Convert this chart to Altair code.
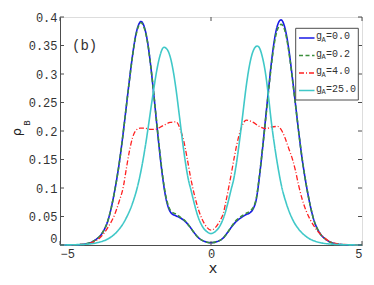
import altair as alt
import pandas as pd

# ---------------- data ----------------
x_a = [-5, -4.5, -4.2, -4.0, -3.8, -3.6, -3.4, -3.2, -3.0, -2.9, -2.8, -2.7, -2.6, -2.5,
       -2.4, -2.32, -2.2, -2.1, -2.0, -1.9, -1.8, -1.7, -1.6, -1.5, -1.4, -1.3, -1.15,
       -1.0, -0.85, -0.7, -0.55, -0.4, -0.2, 0, 0.2, 0.4, 0.55, 0.7, 0.85, 1.0, 1.15,
       1.3, 1.4, 1.5, 1.6, 1.7, 1.8, 1.9, 2.0, 2.1, 2.2, 2.32, 2.4, 2.5, 2.6, 2.7, 2.8,
       2.9, 3.0, 3.2, 3.4, 3.6, 3.8, 4.0, 4.2, 4.5, 5]
rho_g00 = [0, 0.0003, 0.0015, 0.004, 0.010, 0.021, 0.045, 0.092, 0.158, 0.200, 0.245,
           0.290, 0.332, 0.366, 0.386, 0.392, 0.381, 0.356, 0.316, 0.267, 0.214, 0.163,
           0.118, 0.084, 0.064, 0.055, 0.051, 0.047, 0.041, 0.032, 0.021, 0.012, 0.006,
           0.004, 0.006, 0.012, 0.022, 0.033, 0.042, 0.048, 0.053, 0.057, 0.064, 0.080,
           0.118, 0.166, 0.218, 0.270, 0.320, 0.360, 0.385, 0.395, 0.389, 0.368, 0.334,
           0.291, 0.246, 0.200, 0.158, 0.092, 0.045, 0.021, 0.010, 0.004, 0.0015, 0.0003, 0]
rho_g02 = [0, 0.0003, 0.0015, 0.004, 0.010, 0.021, 0.045, 0.092, 0.158, 0.200, 0.245,
           0.289, 0.331, 0.364, 0.384, 0.390, 0.379, 0.355, 0.316, 0.268, 0.216, 0.166,
           0.121, 0.087, 0.067, 0.058, 0.054, 0.048, 0.042, 0.032, 0.021, 0.012, 0.006,
           0.004, 0.006, 0.012, 0.022, 0.034, 0.044, 0.050, 0.055, 0.060, 0.066, 0.082,
           0.120, 0.166, 0.216, 0.267, 0.316, 0.355, 0.378, 0.387, 0.383, 0.364, 0.331,
           0.289, 0.245, 0.200, 0.158, 0.092, 0.045, 0.021, 0.010, 0.004, 0.0015, 0.0003, 0]

x_c = [-5, -4.3, -3.95, -3.6, -3.4, -3.2, -3.05, -2.9, -2.8, -2.7, -2.6, -2.5, -2.35,
       -2.2, -2.0, -1.85, -1.6, -1.35, -1.15, -1.0, -0.9, -0.8, -0.67, -0.55, -0.45,
       -0.3, -0.15, 0, 0.15, 0.3, 0.41, 0.5, 0.63, 0.75, 0.85, 1.0, 1.17, 1.4, 1.6,
       1.82, 2.0, 2.2, 2.35, 2.45, 2.57, 2.7, 2.79, 2.9, 3.01, 3.15, 3.28, 3.45, 3.66,
       3.98, 4.4, 5]
rho_g40 = [0, 0.001, 0.004, 0.017, 0.032, 0.052, 0.075, 0.103, 0.135, 0.165, 0.188,
           0.200, 0.205, 0.205, 0.203, 0.203, 0.209, 0.215, 0.216, 0.200, 0.182, 0.155,
           0.117, 0.088, 0.068, 0.046, 0.032, 0.026, 0.031, 0.043, 0.056, 0.078, 0.113,
           0.148, 0.175, 0.205, 0.219, 0.215, 0.208, 0.204, 0.207, 0.208, 0.200, 0.188,
           0.170, 0.150, 0.132, 0.105, 0.082, 0.060, 0.045, 0.030, 0.017, 0.005, 0.001, 0]

x_d = [-5, -4.5, -4.0, -3.7, -3.4, -3.1, -2.8, -2.6, -2.45, -2.3, -2.2, -2.1, -2.0,
       -1.9, -1.8, -1.7, -1.6, -1.56, -1.45, -1.35, -1.25, -1.15, -1.05, -0.95, -0.85,
       -0.75, -0.67, -0.55, -0.45, -0.3, -0.15, 0, 0.15, 0.3, 0.45, 0.55, 0.67, 0.75,
       0.85, 0.95, 1.05, 1.15, 1.25, 1.35, 1.45, 1.53, 1.6, 1.7, 1.8, 1.9, 2.0, 2.1,
       2.2, 2.35, 2.5, 2.7, 2.9, 3.2, 3.55, 4.0, 4.5, 5]
rho_g250 = [0, 0.0005, 0.002, 0.005, 0.011, 0.024, 0.048, 0.073, 0.099, 0.135, 0.165,
            0.199, 0.236, 0.272, 0.305, 0.330, 0.345, 0.347, 0.343, 0.330, 0.305, 0.270,
            0.228, 0.185, 0.146, 0.115, 0.098, 0.072, 0.053, 0.034, 0.024, 0.020, 0.024,
            0.034, 0.053, 0.072, 0.098, 0.115, 0.146, 0.185, 0.228, 0.272, 0.308, 0.333,
            0.346, 0.349, 0.346, 0.330, 0.303, 0.262, 0.215, 0.176, 0.142, 0.100, 0.072,
            0.045, 0.028, 0.013, 0.005, 0.0015, 0.0004, 0]

series_names = ["0.0", "0.2", "4.0", "25.0"]
series_colors = ["#1a1ae6", "#3d8f3d", "#ff2020", "#40c8c8"]
series_dash = [[1, 0], [4, 2.5], [5, 2, 1, 2], [1, 0]]
series_width = [1.6, 1.6, 1.3, 1.6]

y_ticks = [0, 0.05, 0.1, 0.15, 0.2, 0.25, 0.3, 0.35, 0.4]
x_ticks = [-5, 0, 5]

W, H = 302, 228
MONO = "Liberation Mono"
FRAME = "#4d4d4d"

xs = alt.Scale(domain=[-5, 5], nice=False, zero=False)
ys = alt.Scale(domain=[0, 0.4], nice=False, zero=False)

x_axis = alt.Axis(values=x_ticks, format="d", grid=False, tickSize=0, labelPadding=3,
                  labelFont=MONO, labelFontSize=12, labelColor="#333", domainColor=FRAME,
                  title=None)
y_axis = alt.Axis(values=y_ticks, format=".2~f", grid=False, tickSize=0, labelPadding=3,
                  labelFont=MONO, labelFontSize=12, labelColor="#333", domainColor=FRAME,
                  labelBaseline={"condition": {"test": "datum.value == 0", "value": "bottom"},
                                 "value": "middle"},
                  title=None)

layers = []
for xv, yv, i in [(x_a, rho_g00, 0), (x_a, rho_g02, 1), (x_c, rho_g40, 2), (x_d, rho_g250, 3)]:
    df = pd.DataFrame({"x": xv, "rho": yv})
    layers.append(
        alt.Chart(df).mark_line(color=series_colors[i], strokeDash=series_dash[i],
                                strokeWidth=series_width[i], interpolate="monotone")
        .encode(x=alt.X("x:Q", scale=xs, axis=x_axis),
                y=alt.Y("rho:Q", scale=ys, axis=y_axis))
    )

# inward tick marks (box style)
ytdf = pd.DataFrame({"rho": y_ticks})
xtdf = pd.DataFrame({"x": x_ticks})
tick_left = alt.Chart(ytdf).mark_rule(color=FRAME, strokeWidth=1).encode(
    y=alt.Y("rho:Q", scale=ys, axis=y_axis), x=alt.value(0), x2=alt.value(4))
tick_right = alt.Chart(ytdf).mark_rule(color=FRAME, strokeWidth=1).encode(
    y=alt.Y("rho:Q", scale=ys, axis=y_axis), x=alt.value(W - 4), x2=alt.value(W))
tick_bot = alt.Chart(xtdf).mark_rule(color=FRAME, strokeWidth=1).encode(
    x=alt.X("x:Q", scale=xs, axis=x_axis), y=alt.value(H - 4), y2=alt.value(H))
tick_top = alt.Chart(xtdf).mark_rule(color=FRAME, strokeWidth=1).encode(
    x=alt.X("x:Q", scale=xs, axis=x_axis), y=alt.value(0), y2=alt.value(4))

# legend (manual, to get subscripts)
one = pd.DataFrame({"a": [0]})
LX = W - 66.3  # legend box left edge
leg_box = alt.Chart(one).mark_rect(fill="white", stroke=FRAME, strokeWidth=1).encode(
    x=alt.value(LX), x2=alt.value(LX + 62.6), y=alt.value(11.3), y2=alt.value(83))
leg = [leg_box]
rows = [21, 38.5, 56, 73.5]
for i, name in enumerate(series_names):
    r = rows[i]
    leg.append(alt.Chart(one).mark_rule(color=series_colors[i], strokeDash=series_dash[i],
                                        strokeWidth=series_width[i]).encode(
        x=alt.value(LX + 3.3), x2=alt.value(LX + 18.8), y=alt.value(r)))
    leg.append(alt.Chart(one).mark_text(text="g", font=MONO, fontSize=10, align="left",
                                        baseline="alphabetic", color="#333").encode(
        x=alt.value(LX + 20.3), y=alt.value(r + 1)))
    leg.append(alt.Chart(one).mark_text(text="A", font=MONO, fontSize=7, align="left",
                                        baseline="alphabetic", color="#333").encode(
        x=alt.value(LX + 25.8), y=alt.value(r + 3.5)))
    leg.append(alt.Chart(one).mark_text(text="=" + name, font=MONO, fontSize=10, align="left",
                                        baseline="alphabetic", color="#333").encode(
        x=alt.value(LX + 30.3), y=alt.value(r + 1)))

# annotations and axis titles
panel = alt.Chart(one).mark_text(text="(b)", font=MONO, fontSize=14, align="left",
                                 baseline="middle", color="#333").encode(
    x=alt.value(12), y=alt.value(29))
xtitle = alt.Chart(one).mark_text(text="x", font=MONO, fontSize=15, align="center",
                                  baseline="alphabetic", color="#222").encode(
    x=alt.value(W / 2 + 2), y=alt.value(256))
ytitle = alt.Chart(one).mark_text(text="ρ", font="DejaVu Sans", fontSize=13, align="center",
                                  baseline="alphabetic", angle=270, color="#222").encode(
    x=alt.value(-39.5), y=alt.value(115))
ysub = alt.Chart(one).mark_text(text="B", font=MONO, fontSize=9, align="center",
                                baseline="alphabetic", angle=270, color="#222").encode(
    x=alt.value(-30.5), y=alt.value(106))

chart = alt.layer(
    *layers, tick_left, tick_right, tick_bot, tick_top, *leg, panel, xtitle, ytitle, ysub
).properties(
    width=W, height=H,
    autosize=alt.AutoSizeParams(type="none"),
    padding={"left": 52, "top": 9, "right": 4, "bottom": 32},
).configure_view(stroke=FRAME, strokeWidth=1).configure(background="white")

chart.save("out.html", embed_options={"renderer": "svg", "actions": False})
